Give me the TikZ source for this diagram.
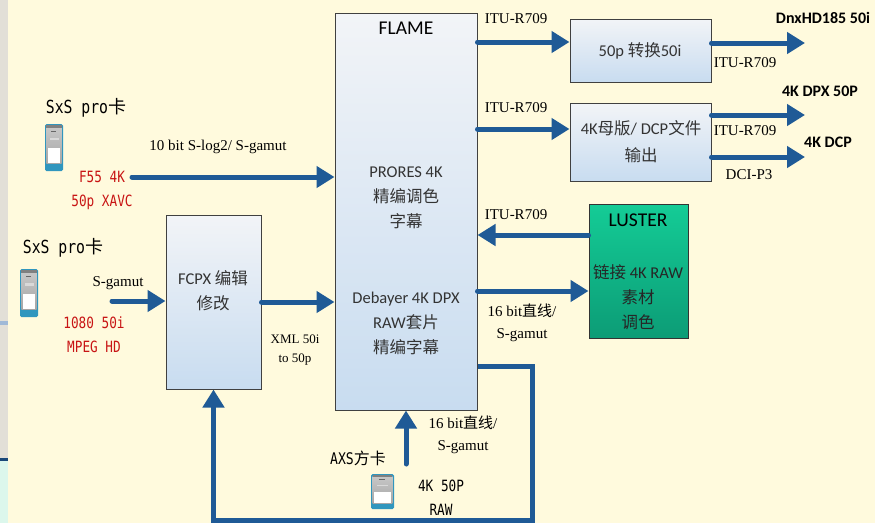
\documentclass[tikz,border=0pt]{standalone}
\usepackage{fontspec}
\setmainfont{Liberation Serif}
\newfontfamily\boxfont{Carlito}
\newfontfamily\cjk{Noto Sans CJK SC}
\newfontfamily\cardfont[FakeStretch=0.82]{DejaVu Sans Mono}
\usetikzlibrary{arrows.meta}

\definecolor{bgcream}{RGB}{255,250,221}
\definecolor{stripgray}{RGB}{226,223,215}
\definecolor{stripmint}{RGB}{220,247,236}
\definecolor{stripblue}{RGB}{160,185,215}
\definecolor{flowblue}{RGB}{31,90,150}
\definecolor{boxtop}{RGB}{242,244,247}
\definecolor{boxbottom}{RGB}{200,220,240}
\definecolor{greentop}{RGB}{20,204,150}
\definecolor{greenbottom}{RGB}{12,156,118}
\definecolor{cardred}{RGB}{200,20,20}
\definecolor{cardteal}{RGB}{48,150,190}

\tikzset{
  procbox/.style={draw=black!75, line width=1pt, top color=boxtop, bottom color=boxbottom, inner sep=0pt},
  greenbox/.style={draw=black!80, line width=1pt, top color=greentop, bottom color=greenbottom, inner sep=0pt},
  boxtext/.style={font=\boxfont\fontsize{16.5}{25}\selectfont, text=black!80, align=center, inner sep=0pt},
  boxtitle/.style={font=\boxfont\fontsize{19.5}{24}\selectfont, text=black, inner sep=0pt},
  lbl/.style={font=\fontsize{15}{22}\selectfont, align=center, inner sep=0pt},
  outlbl/.style={font=\boxfont\bfseries\fontsize{16}{20}\selectfont, inner sep=0pt},
  cardlbl/.style={font=\cardfont\fontsize{18}{22}\selectfont, inner sep=0pt},
  redlbl/.style={font=\cardfont\fontsize{15.5}{24}\selectfont, text=cardred, align=center, inner sep=0pt},
  flow/.style={draw=flowblue, line width=5pt, line cap=round, -{Triangle[length=18pt,width=21pt]}},
  memcard/.pic={
    \fill[rounded corners=1.5pt, cardteal] (0,0) rectangle (1,1);
    \fill[top color=black!22, bottom color=black!35] (0.07,0.07) rectangle (0.93,0.84);
    \fill[black!50] (0.07,0.02) rectangle (0.93,0.08);
    \fill[white] (0.15,0.52) rectangle (0.85,0.84);
    \fill[black!60] (0.35,0.14) rectangle (0.6,0.17);
    \fill[white!85!black] (0.25,0.3) rectangle (0.75,0.35);
  }
}

\begin{document}
\begin{tikzpicture}[x=1pt,y=-1pt]
  \useasboundingbox (0,0) rectangle (875,523);
  % background
  \fill[bgcream] (0,0) rectangle (875,523);
  \fill[stripgray] (0,0) rectangle (8,460);
  \fill[stripmint] (0,460) rectangle (8,523);
  \fill[stripblue] (0,321) rectangle (8,325);
  \fill[flowblue!80!black] (0,458) rectangle (8,461);

  % processing boxes
  \node[procbox, minimum width=142pt, minimum height=397pt] (flame) at (406,211.5) {};
  \node[procbox, minimum width=95pt, minimum height=174pt] (fcpx) at (213.5,302) {};
  \node[procbox, minimum width=141pt, minimum height=63pt] (conv) at (640.5,50.5) {};
  \node[procbox, minimum width=141pt, minimum height=78pt] (master) at (640.5,142) {};
  \node[greenbox, minimum width=99pt, minimum height=134pt] (luster) at (638.5,271) {};

  % box texts
  \node[boxtitle] (flametitle) at (406,28) {FLAME};
  \node[boxtext] (prores) at (406,198) {PRORES 4K\\{\cjk 精编调色}\\{\cjk 字幕}};
  \node[boxtext] (debayer) at (406,323) {Debayer 4K DPX\\RAW{\cjk 套片}\\{\cjk 精编字幕}};
  \node[boxtext] (fcpxtext) at (213,290.5) {FCPX {\cjk 编辑}\\{\cjk 修改}};
  \node[boxtext] (convtext) at (640,51) {50p {\cjk 转换}50i};
  \node[boxtext, font=\boxfont\fontsize{16.5}{27}\selectfont] (mastertext) at (641,141.5) {4K{\cjk 母版}/ DCP{\cjk 文件}\\{\cjk 输出}};
  \node[boxtitle] (lustertitle) at (638,220) {LUSTER};
  \node[boxtext, text=black!85] (lustertext) at (638,297) {{\cjk 链接} 4K RAW\\{\cjk 素材}\\{\cjk 调色}};

  % sources
  \node[cardlbl] (sxsa) at (86,108) {SxS pro{\cjk 卡}};
  \pic[xscale=18, yscale=47] at (45,124) {memcard};
  \node[redlbl] (f55) at (102,190) {F55 4K\\50p XAVC};
  \node[cardlbl] (sxsb) at (63,248) {SxS pro{\cjk 卡}};
  \pic[xscale=18, yscale=48] at (20,269) {memcard};
  \node[redlbl] (mpeg) at (94,335) {1080 50i\\MPEG HD};
  \node[cardlbl, font=\cardfont\fontsize{16}{20}\selectfont] (axs) at (358,458) {AXS{\cjk 方卡}};
  \pic[xscale=23, yscale=35] at (371,474) {memcard};
  \node[redlbl, text=black] (raw) at (441,497.5) {4K 50P\\RAW};

  % free ends
  \coordinate (f55out) at (132,177);
  \coordinate (sgamutout) at (112,301);
  \coordinate (axsout) at (406,464);
  \coordinate (dnxout) at (805,43);
  \coordinate (dpxout) at (805,115);
  \coordinate (dcpout) at (805,157);
  \coordinate (loopcorner) at (532,520);

  % connectors
  \draw[flow] (f55out) -- (flame.west |- f55out);
  \draw[flow] (sgamutout) -- (fcpx.west |- sgamutout);
  \draw[flow] (fcpx.east |- 0,302) -- (flame.west |- 0,302);
  \draw[flow] (axsout) -- (flame.south);
  \draw[flow] (flame.east |- 0,42) -- (conv.west |- 0,42);
  \draw[flow] (flame.east |- 0,129) -- (master.west |- 0,129);
  \draw[flow] (luster.west |- 0,235) -- (flame.east |- 0,235);
  \draw[flow] (flame.east |- 0,291) -- (luster.west |- 0,291);
  \draw[flow] (conv.east |- dnxout) -- (dnxout);
  \draw[flow] (master.east |- dpxout) -- (dpxout);
  \draw[flow] (master.east |- dcpout) -- (dcpout);
  \draw[flow, line cap=butt] (flame.east |- 0,366) -| (loopcorner) -| (fcpx.south);

  % labels
  \node[lbl] (lblslog) at (218,147) {10 bit S-log2/ S-gamut};
  \node[lbl] (lblsgamut) at (118,283) {S-gamut};
  \node[lbl, font=\fontsize{13}{19}\selectfont] (lblxml) at (295,350.5) {XML 50i\\to 50p};
  \node[lbl] (lblaxs) at (463,434.5) {16 bit{\cjk 直线}/\\S-gamut};
  \node[lbl] (lblluster) at (522,322.5) {16 bit{\cjk 直线}/\\S-gamut};
  \node[lbl] (ituconv) at (516,19) {ITU-R709};
  \node[lbl] (itumaster) at (516,108) {ITU-R709};
  \node[lbl] (itureturn) at (516,215) {ITU-R709};
  \node[lbl] (itudnx) at (745,63) {ITU-R709};
  \node[lbl] (itudpx) at (745,131) {ITU-R709};
  \node[lbl] (dcip) at (749,175) {DCI-P3};
  \node[outlbl] (dnx) at (823,18) {DnxHD185 50i};
  \node[outlbl] (dpx) at (820,91) {4K DPX 50P};
  \node[outlbl] (dcp) at (828,142) {4K DCP};
\end{tikzpicture}
\end{document}
